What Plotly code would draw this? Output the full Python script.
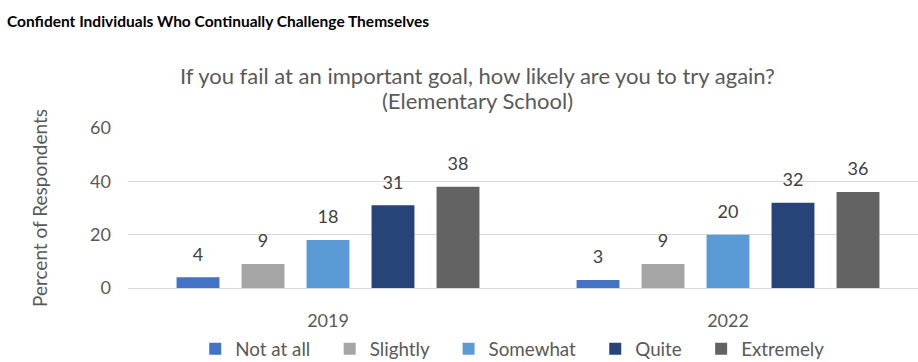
import plotly.graph_objects as go

years = ["2019", "2022"]
series_names = ["Not at all", "Slightly", "Somewhat", "Quite", "Extremely"]
not_at_all = [4, 3]
slightly = [9, 9]
somewhat = [18, 20]
quite = [31, 32]
extremely = [38, 36]
colors = ["#4472C4", "#A5A5A5", "#5B9BD5", "#264478", "#636363"]
y_ticks = [0, 20, 40, 60]

FONT = "Lato, 'Open Sans', sans-serif"

fig = go.Figure()
all_vals = [not_at_all, slightly, somewhat, quite, extremely]
n = len(series_names)
for i, (name, vals, col) in enumerate(zip(series_names, all_vals, colors)):
    pad = "\u00a0" * 3 if i < n - 1 else ""
    fig.add_trace(go.Bar(
        x=years, y=vals, name=name + pad, marker=dict(color=col, line=dict(width=0)),
        offsetgroup=str(i),
    ))
for i, vals in enumerate(all_vals):
    fig.add_trace(go.Scatter(
        x=years, y=vals, mode="markers+text", showlegend=False, hoverinfo="skip",
        offsetgroup=str(i),
        marker=dict(size=18, color="rgba(0,0,0,0)"),
        text=[str(v) for v in vals], textposition="top center", cliponaxis=False,
        textfont=dict(family=FONT, size=18, color="#404040"),
    ))

fig.update_layout(
    width=918, height=362,
    margin=dict(l=128, r=0, t=128, b=74),
    paper_bgcolor="white", plot_bgcolor="white",
    barmode="group", bargap=0.1875, bargroupgap=0.34,
    scattermode="group", scattergap=0.1875,
    font=dict(family=FONT, color="#595959"),
    showlegend=True,
    legend=dict(orientation="h", x=0.487, xanchor="center", yref="container", y=1 - 349 / 362,
                yanchor="middle",
                font=dict(family=FONT, size=18.8, color="#595959"),
                itemwidth=30, traceorder="normal"),
    xaxis=dict(range=[-0.5, 1.475], showgrid=False, showline=False, ticks="",
               ticklabelstandoff=20,
               tickfont=dict(family=FONT, size=18, color="#595959")),
    yaxis=dict(range=[0, 60], tickvals=y_ticks, showgrid=True, gridcolor="#D9D9D9", gridwidth=1,
               zeroline=True, zerolinecolor="#D9D9D9", zerolinewidth=1, showline=False,
               ticks="", ticklabelstandoff=16,
               tickfont=dict(family=FONT, size=18, color="#595959"),
               title=dict(text="Percent of Respondents", standoff=37,
                          font=dict(family=FONT, size=19, color="#595959"))),
    annotations=[
        dict(text="<b>Confident Individuals Who Continually Challenge Themselves</b>",
             xref="paper", yref="paper", x=(5 - 128) / 790, y=(288 - 21) / 160,
             xanchor="left", yanchor="middle", showarrow=False,
             font=dict(family=FONT, size=15.5, color="#000000")),
        dict(text="If you fail at an important goal, how likely are you to try again?",
             xref="paper", yref="paper", x=(477 - 128) / 790, y=(288 - 75) / 160,
             xanchor="center", yanchor="middle", showarrow=False,
             font=dict(family=FONT, size=22, color="#595959")),
        dict(text="(Elementary School)",
             xref="paper", yref="paper", x=(477 - 128) / 790, y=(288 - 100) / 160,
             xanchor="center", yanchor="middle", showarrow=False,
             font=dict(family=FONT, size=22, color="#595959")),
    ],
)

fig.write_html("out.html")
